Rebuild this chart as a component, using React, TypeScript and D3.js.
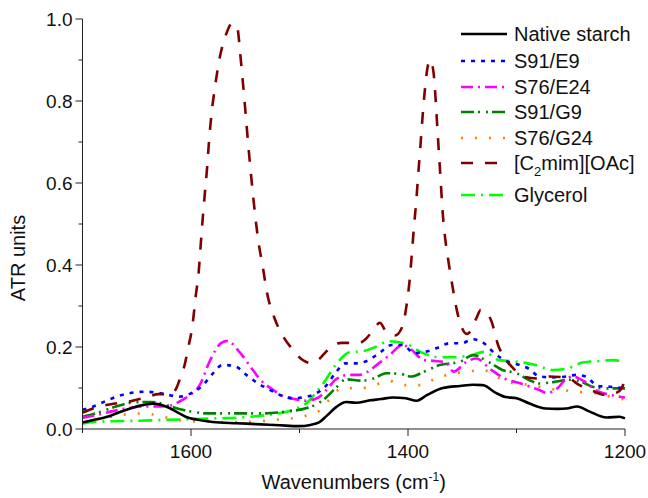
import React from "react";
import * as d3 from "d3";

const xTicksMajor = [1600, 1400, 1200];
const xTicksMinor = [1700, 1500, 1300];
const yTicksMajor = [0, 0.2, 0.4, 0.6, 0.8, 1.0];
const yTicksMinor = [0.1, 0.3, 0.5, 0.7, 0.9];

const nativeStarch: [number, number][] = [
  [1700, 0.016], [1690, 0.022], [1678, 0.029], [1665, 0.042], [1650, 0.055], [1635, 0.062],
  [1623, 0.055], [1612, 0.04], [1605, 0.03], [1595, 0.023], [1580, 0.017], [1558, 0.014],
  [1540, 0.012], [1518, 0.009], [1501, 0.007], [1490, 0.01], [1482, 0.016], [1475, 0.032],
  [1466, 0.054], [1457, 0.066], [1448, 0.064], [1435, 0.07], [1425, 0.073], [1414, 0.077],
  [1402, 0.075], [1392, 0.069], [1383, 0.082], [1368, 0.1], [1352, 0.105], [1340, 0.108],
  [1331, 0.107], [1319, 0.088], [1310, 0.078], [1300, 0.075], [1288, 0.062], [1273, 0.05],
  [1262, 0.049], [1254, 0.05], [1244, 0.055], [1233, 0.043], [1217, 0.028], [1205, 0.03],
  [1200, 0.026],
];

const s91e9: [number, number][] = [
  [1700, 0.047], [1690, 0.055], [1678, 0.069], [1665, 0.082], [1653, 0.089], [1643, 0.091],
  [1632, 0.089], [1621, 0.083], [1610, 0.079], [1600, 0.087], [1589, 0.107], [1580, 0.135],
  [1571, 0.156], [1560, 0.154], [1549, 0.132], [1538, 0.111], [1527, 0.095], [1518, 0.083],
  [1506, 0.075], [1497, 0.077], [1486, 0.085], [1475, 0.107], [1467, 0.136], [1458, 0.16],
  [1448, 0.16], [1437, 0.167], [1426, 0.186], [1415, 0.205], [1405, 0.205], [1394, 0.185],
  [1383, 0.189], [1372, 0.199], [1362, 0.209], [1351, 0.209], [1340, 0.219], [1331, 0.211],
  [1320, 0.184], [1308, 0.164], [1297, 0.156], [1288, 0.146], [1279, 0.128], [1266, 0.126],
  [1254, 0.128], [1245, 0.132], [1236, 0.128], [1225, 0.105], [1214, 0.103], [1200, 0.099],
];

const s76e24: [number, number][] = [
  [1700, 0.027], [1684, 0.036], [1668, 0.046], [1655, 0.052], [1644, 0.055], [1632, 0.055],
  [1621, 0.056], [1610, 0.068], [1601, 0.083], [1592, 0.107], [1583, 0.164], [1572, 0.21],
  [1566, 0.215], [1557, 0.193], [1543, 0.144], [1536, 0.12], [1524, 0.095], [1515, 0.08],
  [1506, 0.074], [1494, 0.069], [1482, 0.078], [1472, 0.105], [1467, 0.12], [1454, 0.132],
  [1445, 0.132], [1437, 0.14], [1427, 0.16], [1417, 0.18], [1405, 0.205], [1400, 0.2],
  [1385, 0.168], [1375, 0.166], [1365, 0.162], [1358, 0.14], [1346, 0.164], [1337, 0.172],
  [1325, 0.148], [1311, 0.123], [1296, 0.111], [1279, 0.095], [1272, 0.088], [1262, 0.1],
  [1255, 0.12], [1248, 0.128], [1240, 0.12], [1224, 0.091], [1213, 0.083], [1200, 0.077],
];

const s91g9: [number, number][] = [
  [1700, 0.03], [1688, 0.038], [1670, 0.054], [1653, 0.065], [1636, 0.066], [1622, 0.058],
  [1610, 0.048], [1598, 0.042], [1585, 0.038], [1560, 0.038], [1534, 0.038], [1514, 0.042],
  [1491, 0.053], [1478, 0.071], [1467, 0.099], [1457, 0.121], [1443, 0.118], [1432, 0.123],
  [1420, 0.136], [1406, 0.134], [1397, 0.128], [1385, 0.14], [1371, 0.156], [1352, 0.164],
  [1340, 0.18], [1326, 0.164], [1313, 0.144], [1300, 0.136], [1288, 0.119], [1279, 0.111],
  [1265, 0.115], [1251, 0.12], [1240, 0.115], [1230, 0.103], [1217, 0.099], [1200, 0.099],
];

const s76g24: [number, number][] = [
  [1700, 0.016], [1688, 0.022], [1673, 0.03], [1659, 0.036], [1645, 0.038], [1630, 0.033],
  [1617, 0.024], [1601, 0.019], [1587, 0.018], [1573, 0.017], [1556, 0.017], [1531, 0.02],
  [1516, 0.024], [1501, 0.028], [1488, 0.038], [1479, 0.05], [1474, 0.067], [1460, 0.1],
  [1444, 0.099], [1431, 0.107], [1417, 0.117], [1403, 0.107], [1388, 0.107], [1374, 0.124],
  [1358, 0.135], [1345, 0.14], [1331, 0.144], [1316, 0.124], [1302, 0.111], [1285, 0.107],
  [1273, 0.099], [1258, 0.095], [1240, 0.09], [1226, 0.087], [1212, 0.078], [1200, 0.072],
];

const c2mimOAc: [number, number][] = [
  [1700, 0.04], [1687, 0.053], [1670, 0.062], [1655, 0.068], [1640, 0.078], [1630, 0.085],
  [1620, 0.085], [1614, 0.097], [1610, 0.124], [1606, 0.155], [1603, 0.193], [1598.6, 0.254],
  [1595.5, 0.327], [1593, 0.38], [1591.2, 0.444], [1589.3, 0.51], [1587.2, 0.576], [1585.1, 0.639],
  [1583.3, 0.705], [1581, 0.771], [1578, 0.832], [1574.3, 0.895], [1567.2, 0.966], [1562, 0.99],
  [1557.3, 0.978], [1554.5, 0.912], [1552.2, 0.846], [1550.1, 0.783], [1548, 0.717], [1545.8, 0.651],
  [1543.5, 0.588], [1540.9, 0.522], [1537.8, 0.456], [1533.8, 0.395], [1529.9, 0.332], [1523, 0.27],
  [1516, 0.23], [1506, 0.193], [1498, 0.17], [1490, 0.161], [1483, 0.168], [1475, 0.19],
  [1469, 0.205], [1461, 0.21], [1445, 0.21], [1438, 0.222], [1430, 0.25], [1426, 0.259],
  [1420, 0.237], [1412, 0.228], [1406, 0.245], [1401.3, 0.302], [1398.5, 0.363], [1396.4, 0.429],
  [1394.5, 0.493], [1392.3, 0.559], [1390.5, 0.624], [1388.6, 0.688], [1386.8, 0.754], [1384.7, 0.82],
  [1381.9, 0.883], [1379.4, 0.9], [1376.4, 0.868], [1374.5, 0.802], [1373, 0.737], [1371.5, 0.673],
  [1369.9, 0.607], [1368.4, 0.541], [1366.3, 0.478], [1363.2, 0.417], [1359.2, 0.351], [1354.6, 0.285],
  [1350, 0.245], [1346, 0.232], [1342, 0.24], [1337, 0.27], [1333, 0.29], [1328, 0.285],
  [1323, 0.262], [1317, 0.205], [1310, 0.17], [1303, 0.148], [1294, 0.128], [1280, 0.123],
  [1270, 0.128], [1260, 0.127], [1252, 0.125], [1245, 0.112], [1230, 0.093], [1217, 0.083],
  [1208, 0.088], [1203, 0.1], [1200, 0.12],
];

const glycerol: [number, number][] = [
  [1700, 0.013], [1690, 0.017], [1675, 0.019], [1650, 0.02], [1625, 0.022], [1600, 0.024],
  [1575, 0.026], [1555, 0.028], [1530, 0.034], [1515, 0.04], [1503, 0.05], [1494, 0.062],
  [1485, 0.088], [1477, 0.115], [1471, 0.14], [1463, 0.168], [1454, 0.187], [1443, 0.189],
  [1430, 0.2], [1418, 0.214], [1403, 0.209], [1386, 0.185], [1371, 0.175], [1358, 0.175],
  [1342, 0.18], [1330, 0.188], [1316, 0.168], [1299, 0.164], [1282, 0.156], [1267, 0.144],
  [1253, 0.148], [1239, 0.162], [1222, 0.166], [1211, 0.168], [1200, 0.164],
];

const seriesNames = ["Native starch", "S91/E9", "S76/E24", "S91/G9", "S76/G24", "[C2mim][OAc]", "Glycerol"];
const seriesData = [nativeStarch, s91e9, s76e24, s91g9, s76g24, c2mimOAc, glycerol];
const seriesColors = ["#000000", "#0000FF", "#FF00FF", "#008000", "#FF8000", "#800000", "#00FF00"];
const seriesDash = ["none", "4,6", "12,5,2,5", "13,4,2,6,2,4", "2,12", "12,12", "14,6,2,6"];

const FONT = "'Liberation Sans', Arial, Helvetica, sans-serif";

export default function App() {
  const W = 648, H = 498;
  const left = 82.5, right = 625, top = 19, bottom = 429;
  const x = d3.scaleLinear().domain([1700, 1200]).range([left, right]);
  const y = d3.scaleLinear().domain([0, 1]).range([bottom, top]);
  const line = d3
    .line<[number, number]>()
    .x((d) => x(d[0]))
    .y((d) => y(d[1]))
    .curve(d3.curveMonotoneX);

  const drawOrder = [6, 4, 3, 2, 1, 5, 0];
  const legendY = [34, 61, 87, 112, 138, 163, 195];

  return (
    <svg width={W} height={H} style={{ position: "absolute", left: 0, top: 0 }} fontFamily={FONT}>
      <rect width={W} height={H} fill="#fff" />
      {drawOrder.map((i) => (
        <path
          key={i}
          d={line(seriesData[i]) || ""}
          fill="none"
          stroke={seriesColors[i]}
          strokeWidth={2.6}
          strokeDasharray={seriesDash[i]}
        />
      ))}
      <line x1={left} x2={right} y1={bottom} y2={bottom} stroke="#222" strokeWidth={1} />
      <line x1={left} x2={left} y1={bottom} y2={top} stroke="#222" strokeWidth={1} />
      {xTicksMajor.map((t) => (
        <g key={"xm" + t}>
          <line x1={x(t)} x2={x(t)} y1={bottom} y2={bottom + 7} stroke="#222" />
          <text x={x(t)} y={bottom + 29} fontSize={19} textAnchor="middle" fill="#111">
            {t}
          </text>
        </g>
      ))}
      {xTicksMinor.map((t) => (
        <line key={"xn" + t} x1={x(t)} x2={x(t)} y1={bottom} y2={bottom + 4} stroke="#222" />
      ))}
      {yTicksMajor.map((t) => (
        <g key={"ym" + t}>
          <line x1={left - 7} x2={left} y1={y(t)} y2={y(t)} stroke="#222" />
          <text x={left - 10} y={y(t) + 7} fontSize={19} textAnchor="end" fill="#111">
            {t.toFixed(1)}
          </text>
        </g>
      ))}
      {yTicksMinor.map((t) => (
        <line key={"yn" + t} x1={left - 4} x2={left} y1={y(t)} y2={y(t)} stroke="#222" />
      ))}
      <text x={(left + right) / 2} y={489} fontSize={20} textAnchor="middle" fill="#111">
        Wavenumbers (cm<tspan dy={-8} fontSize={12}>-1</tspan>
        <tspan dy={8}>)</tspan>
      </text>
      <text
        transform={`translate(25,258) rotate(-90)`}
        fontSize={20}
        textAnchor="middle"
        fill="#111"
      >
        ATR units
      </text>
      {seriesNames.map((n, i) => (
        <g key={"lg" + i}>
          <line
            x1={461}
            x2={507}
            y1={legendY[i]}
            y2={legendY[i]}
            stroke={seriesColors[i]}
            strokeWidth={2.6}
            strokeDasharray={seriesDash[i]}
          />
          <text x={514} y={legendY[i] + 7} fontSize={20} fill="#111">
            {i === 5 ? (
              <>
                [C<tspan dy={6} fontSize={13}>2</tspan>
                <tspan dy={-6}>mim][OAc]</tspan>
              </>
            ) : (
              n
            )}
          </text>
        </g>
      ))}
    </svg>
  );
}
